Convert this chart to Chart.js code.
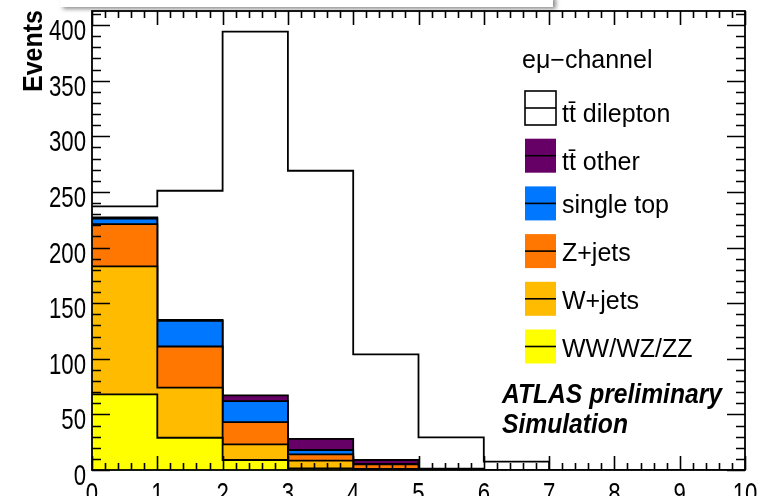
<!DOCTYPE html>
<html>
<head>
<meta charset="utf-8">
<script src="https://cdn.jsdelivr.net/npm/chart.js@4.4.1/dist/chart.umd.min.js"></script>
<style>
  html, body { margin: 0; padding: 0; background: #fff; }
  #wrap { position: relative; width: 771px; height: 496px; overflow: hidden; }
  #shade { position: absolute; left: 60px; top: -4px; width: 493px; height: 11px; background: #fff;
           box-shadow: 3px 2px 4px rgba(0, 0, 0, 0.45); }
</style>
</head>
<body>
<div id="wrap"><canvas id="chart"></canvas><div id="shade"></div></div>
<script>
// bin edges of the histogram, axis 0..10
const binEdges = [0, 1, 2, 3, 4, 5, 6, 7, 8, 9, 10];

// events per bin, one array per process (bottom of the stack first)
const dibosonEvents   = [68, 29, 9, 1.5, 0.3, 0.2, 0, 0, 0, 0];
const wJetsEvents     = [115, 45, 14, 7, 0.7, 0.3, 0, 0, 0, 0];
const zJetsEvents     = [38, 37, 20, 5.5, 4, 0.3, 0, 0, 0, 0];
const singleTopEvents = [5, 23, 19, 4, 0.5, 0.1, 0, 0, 0, 0];
const ttOtherEvents   = [1, 1, 5, 10, 3.5, 0.4, 0, 0, 0, 0];
const ttDilepEvents   = [10, 116, 327, 241, 95, 28, 7.5, 0, 0, 0];

const legendLabels = ['t\u0074\u0304 dilepton', 't\u0074\u0304 other', 'single top', 'Z+jets', 'W+jets', 'WW/WZ/ZZ'];
const channelLabel = 'e\u03bc\u2212channel';
const atlasLabels = ['ATLAS preliminary', 'Simulation'];
const yTitle = 'Events';

const yTickValues = [0, 50, 100, 150, 200, 250, 300, 350, 400];
const xTickValues = [0, 1, 2, 3, 4, 5, 6, 7, 8, 9, 10];
const yMax = 412.6;

const FONT = "'Liberation Sans', Arial, sans-serif";

// a step histogram needs one point per edge; last edge repeats the last bin
const toSteps = (values) => binEdges.map((x, i) => ({ x: x, y: values[Math.min(i, values.length - 1)] }));

const layer = (label, values, color) => ({
    label: label,
    data: toSteps(values),
    stepped: 'before',
    fill: 'origin',
    backgroundColor: color,
    borderColor: '#000',
    borderWidth: 1.8,
    pointRadius: 0,
    tension: 0
});

// text squeezed sideways like the ROOT output
function squeezedText(ctx, text, x, y, sx, align) {
    ctx.save();
    ctx.translate(x, y);
    ctx.scale(sx, 1);
    ctx.textAlign = align;
    ctx.fillText(text, 0, 0);
    ctx.restore();
}

// ROOT style frame with inward ticks on all four sides, plus tick labels
const frameTicks = {
    id: 'frameTicks',
    afterDatasetsDraw(chart) {
        const { ctx, chartArea: a, scales: { x, y } } = chart;
        ctx.save();
        ctx.strokeStyle = '#000';
        ctx.lineWidth = 1.8;
        ctx.strokeRect(a.left, a.top, a.right - a.left, a.bottom - a.top);
        ctx.lineWidth = 1.6;
        ctx.beginPath();
        for (let v = 0; v <= yMax; v += 10) {
            const py = Math.round(y.getPixelForValue(v)) + 0.5;
            const len = v % 50 === 0 ? 18 : 9;
            ctx.moveTo(a.left, py); ctx.lineTo(a.left + len, py);
            ctx.moveTo(a.right, py); ctx.lineTo(a.right - len, py);
        }
        for (let i = 0; i <= 50; i++) {
            const px = Math.round(x.getPixelForValue(i / 5)) + 0.5;
            const len = i % 5 === 0 ? 14 : 7;
            ctx.moveTo(px, a.bottom); ctx.lineTo(px, a.bottom - len);
            ctx.moveTo(px, a.top); ctx.lineTo(px, a.top + len);
        }
        ctx.stroke();

        ctx.fillStyle = '#000';
        ctx.font = '30px ' + FONT;
        ctx.textBaseline = 'alphabetic';
        const sx = 37 / ctx.measureText('300').width;
        y.ticks.forEach(t => {
            squeezedText(ctx, String(t.value), a.left - 6, y.getPixelForValue(t.value) + 15, sx, 'right');
        });
        x.ticks.forEach(t => {
            squeezedText(ctx, String(t.value), x.getPixelForValue(t.value), a.bottom + 33, sx, 'center');
        });

        // rotated axis title
        ctx.font = 'bold 28px ' + FONT;
        const st = 82 / ctx.measureText(yTitle).width;
        ctx.save();
        ctx.translate(42, a.top - 1);
        ctx.rotate(-Math.PI / 2);
        ctx.scale(st, 1);
        ctx.textAlign = 'right';
        ctx.fillText(yTitle, 0, 0);
        ctx.restore();
        ctx.restore();
    }
};

// legend box and the ATLAS labels
const legendBox = {
    id: 'legendBox',
    afterDraw(chart) {
        const ctx = chart.ctx;
        const colors = chart.data.datasets.map(d => d.backgroundColor).reverse();
        ctx.save();
        ctx.fillStyle = '#000';
        ctx.textBaseline = 'alphabetic';
        ctx.font = '25px ' + FONT;
        ctx.fillText(channelLabel, 522, 68);
        legendLabels.forEach((label, i) => {
            const cy = 108 + i * 47.7;
            ctx.fillStyle = colors[i];
            ctx.fillRect(525, cy - 17, 31, 34);
            ctx.strokeStyle = '#000';
            ctx.lineWidth = 1.6;
            if (i === 0) ctx.strokeRect(525, cy - 17, 31, 34);
            ctx.beginPath();
            ctx.moveTo(525, cy); ctx.lineTo(556, cy);
            ctx.stroke();
            ctx.fillStyle = '#000';
            ctx.fillText(label, 562, cy + (i < 2 ? 14 : 10));
        });
        ctx.font = 'italic bold 28px ' + FONT;
        const sa = 220 / ctx.measureText(atlasLabels[0]).width;
        squeezedText(ctx, atlasLabels[0], 502, 403, sa, 'left');
        squeezedText(ctx, atlasLabels[1], 502, 433, sa, 'left');
        ctx.restore();
    }
};

new Chart(document.getElementById('chart'), {
    type: 'line',
    data: {
        datasets: [
            layer(legendLabels[5], dibosonEvents, '#ffff00'),
            layer(legendLabels[4], wJetsEvents, '#ffbb00'),
            layer(legendLabels[3], zJetsEvents, '#ff7700'),
            layer(legendLabels[2], singleTopEvents, '#0077ff'),
            layer(legendLabels[1], ttOtherEvents, '#660066'),
            layer(legendLabels[0], ttDilepEvents, '#ffffff')
        ]
    },
    options: {
        animation: false,
        responsive: true,
        maintainAspectRatio: false,
        layout: { padding: { top: 11, right: 26, left: 0, bottom: 0 } },
        plugins: {
            legend: { display: false },
            tooltip: { enabled: false }
        },
        scales: {
            x: {
                type: 'linear',
                min: 0,
                max: 10,
                afterBuildTicks: (s) => { s.ticks = xTickValues.map(v => ({ value: v })); },
                afterFit: (s) => { s.height = 26; },
                grid: { display: false, drawTicks: false },
                border: { display: false },
                ticks: { display: false }
            },
            y: {
                type: 'linear',
                stacked: true,
                min: 0,
                max: yMax,
                afterBuildTicks: (s) => { s.ticks = yTickValues.map(v => ({ value: v })); },
                afterFit: (s) => { s.width = 92; },
                grid: { display: false, drawTicks: false },
                border: { display: false },
                ticks: { display: false }
            }
        }
    },
    plugins: [frameTicks, legendBox]
});
</script>
</body>
</html>
